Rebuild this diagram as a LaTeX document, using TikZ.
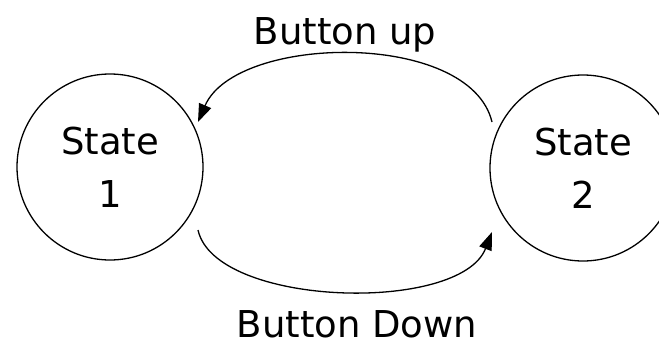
\documentclass[tikz,border=0pt]{standalone}
\usepackage{fontspec}
\setmainfont{DejaVu Sans}
\usetikzlibrary{arrows.meta,calc}
\begin{document}
\begin{tikzpicture}[x=1pt,y=-1pt,line width=1.3pt,
  statenode/.style={draw,circle,minimum size=186pt,inner sep=0pt,align=center,
    font=\fontsize{37}{53}\selectfont},
  edgelabel/.style={anchor=base,inner sep=0pt,font=\fontsize{37}{44}\selectfont},
  trans/.style={-{Triangle[length=18pt,width=13pt]}}]
  \clip (0,0) rectangle (659,345);
  \node[statenode] (s1) at (110,167) {State\\1};
  \node[statenode] (s2) at (583,168) {State\\2};
  \node[edgelabel] (up) at (345,45) {Button up};
  \node[edgelabel] (down) at (357,337) {Button Down};
  % button up: 2 -> 1
  \draw[trans] ($(s2)+(-91,-46)$) .. controls +(-22,-92) and +(38,-88) .. ($(s1)+(88,-45)$);
  % button down: 1 -> 2
  \draw[trans] ($(s1)+(88,63)$) .. controls +(17,77) and +(-32,82) .. ($(s2)+(-91,64)$);
\end{tikzpicture}
\end{document}
